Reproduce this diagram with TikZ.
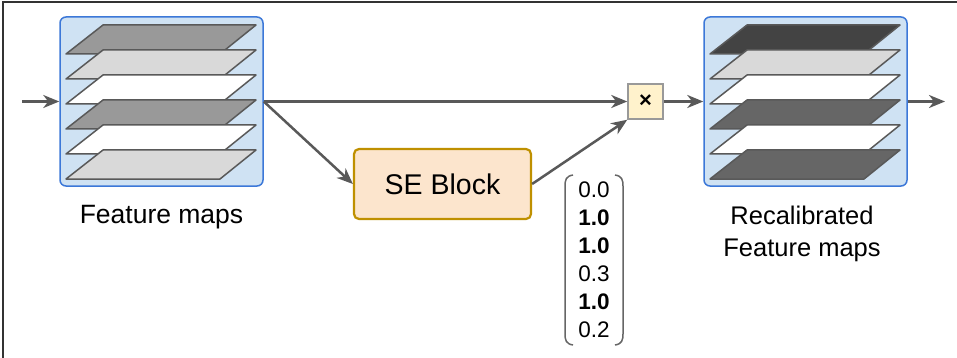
\documentclass[tikz,border=0pt]{standalone}
\usepackage{fontspec}
\setmainfont{Liberation Sans}
\usetikzlibrary{arrows.meta}
\definecolor{conn}{HTML}{595959}
\definecolor{fmfill}{HTML}{CFE2F3}
\definecolor{fmdraw}{HTML}{3C78D8}
\definecolor{sefill}{HTML}{FCE5CD}
\definecolor{sedraw}{HTML}{BF9000}
\definecolor{mulfill}{HTML}{FFF2CC}
\definecolor{mulldraw}{HTML}{999999}
\definecolor{pA}{HTML}{999999}
\definecolor{pB}{HTML}{D9D9D9}
\definecolor{pC}{HTML}{434343}
\definecolor{pD}{HTML}{666666}
\tikzset{
  fmbox/.style={draw=fmdraw, fill=fmfill, line width=1.5pt, rounded corners=6pt, minimum width=203pt, minimum height=169pt, inner sep=0pt},
  sebox/.style={draw=sedraw, fill=sefill, line width=2.2pt, rounded corners=5pt, minimum width=177pt, minimum height=70pt, inner sep=0pt, font=\fontsize{28.5}{32}\selectfont},
  mulbox/.style={draw=mulldraw, fill=mulfill, line width=1.5pt, minimum width=35pt, minimum height=35pt, inner sep=0pt, font=\fontsize{22}{24}\selectfont\bfseries},
  conn/.style={draw=conn, line width=2.5pt, -{Stealth[length=16pt, width=13pt, inset=5pt]}},
  plane/.style={draw=conn, line width=1.5pt, line join=round},
  lbl/.style={font=\fontsize{26.5}{32.5}\selectfont, align=center, inner sep=0pt},
  vtxt/.style={font=\fontsize{22.5}{28}\selectfont, anchor=base, inner sep=0pt},
  brk/.style={draw=pD, line width=1.5pt}
}
\begin{document}
\begin{tikzpicture}[x=1pt, y=-1pt]
\useasboundingbox (0,0) rectangle (957,358);
\fill[white] (0,0) rectangle (957,358);
% frame (partial)
\draw[line width=1.5pt, black!80] (3,358) -- (3,2) -- (957,2);

% boxes
\node[fmbox] (fm) at (161.5,101.5) {};
\node[fmbox] (rfm) at (805.5,101.5) {};
\node[sebox] (se) at (442.5,184) {SE Block};
\node[mulbox] (mul) at (645.5,101.5) {×};

% planes
\foreach \dx/\cols in {0/{pA,pB,white,pA,white,pB}, 644/{pC,pB,white,pD,white,pD}}{
  \foreach \c [count=\i from 0] in \cols {
    \filldraw[plane, fill=\c] ({103+\dx},{25+25*\i}) -- ({256+\dx},{25+25*\i}) -- ({220+\dx},{54+25*\i}) -- ({66+\dx},{54+25*\i}) -- cycle;
  }
}

% labels
\node[lbl] (fml) at (161.5,217) {Feature maps};
\node[lbl, font=\fontsize{25.5}{32.5}\selectfont] (rfml) at (802,234) {Recalibrated\\Feature maps};

% vector
\node[vtxt] (v1) at (594,197) {0.0};
\node[vtxt] (v2) at (594,225) {\textbf{1.0}};
\node[vtxt] (v3) at (594,253) {\textbf{1.0}};
\node[vtxt] (v4) at (594,281) {0.3};
\node[vtxt] (v5) at (594,309) {\textbf{1.0}};
\node[vtxt] (v6) at (594,337) {0.2};
\draw[brk] (573,175) .. controls (566,176) and (565,180) .. (565,186) -- (565,334) .. controls (565,340) and (566,344) .. (573,345);
\draw[brk] (615,175) .. controls (622,176) and (623,180) .. (623,186) -- (623,334) .. controls (623,340) and (622,344) .. (615,345);

% connectors
\coordinate (in) at (22,101.5);
\coordinate (out) at (945,101.5);
\draw[conn] (in) -- (fm.west);
\draw[conn] (fm.east) -- (mul.west);
\draw[conn] (fm.east) -- (se.west);
\draw[conn] (se.east) -- (mul.south west);
\draw[conn] (mul.east) -- (rfm.west);
\draw[conn] (rfm.east) -- (out);
\end{tikzpicture}
\end{document}
